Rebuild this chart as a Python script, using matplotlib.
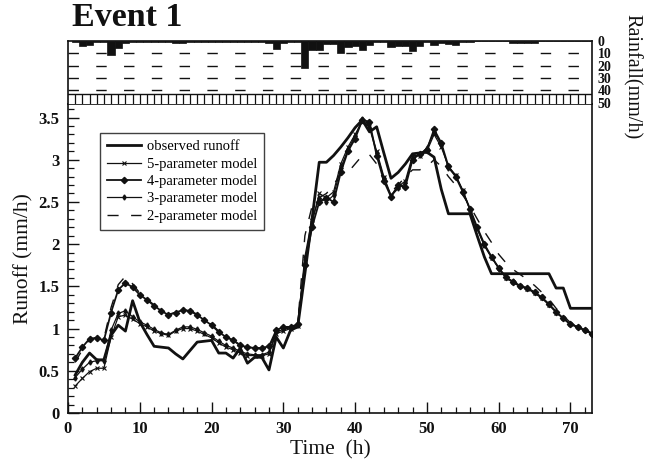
import matplotlib
matplotlib.use("Agg")
import matplotlib.pyplot as plt
import numpy as np
from matplotlib.ticker import MultipleLocator

plt.rcParams['font.family'] = ['Liberation Serif', 'DejaVu Serif']

hours = list(range(1, 74))

observed = [0.45, 0.60, 0.71, 0.63, 0.63, 0.92, 1.04, 0.97, 1.33, 1.08,
            0.93, 0.79, 0.78, 0.77, 0.70, 0.64, 0.74, 0.84, 0.85, 0.86,
            0.71, 0.71, 0.65, 0.77, 0.59, 0.66, 0.66, 0.51, 0.90, 0.77,
            0.98, 1.02, 1.65, 2.30, 2.97, 2.97, 3.05, 3.15, 3.26, 3.38,
            3.47, 3.33, 3.39, 3.08, 2.78, 2.85, 2.95, 3.07, 3.08, 3.09,
            3.03, 2.65, 2.36, 2.36, 2.36, 2.36, 2.10, 1.85, 1.65, 1.65,
            1.65, 1.65, 1.65, 1.65, 1.65, 1.65, 1.65, 1.48, 1.48, 1.24,
            1.24, 1.24, 1.24]

model5 = [0.32, 0.41, 0.49, 0.53, 0.53, 0.90, 1.14, 1.16, 1.11, 1.06,
          1.02, 0.97, 0.94, 0.92, 0.97, 1.00, 1.00, 0.97, 0.93, 0.89,
          0.83, 0.78, 0.75, 0.71, 0.68, 0.68, 0.68, 0.70, 0.94, 0.97,
          1.00, 1.03, 1.80, 2.25, 2.60, 2.55, 2.62, 2.95, 3.15, 3.30,
          3.45, 3.40, 3.10, 2.80, 2.58, 2.68, 2.75, 3.05, 3.05, 3.10,
          3.30, 3.15, 2.92, 2.82, 2.64, 2.40, 2.18, 1.98, 1.84, 1.72,
          1.60, 1.55, 1.50, 1.47, 1.42, 1.36, 1.28, 1.19, 1.12, 1.05,
          1.02, 0.98, 0.94]

model4 = [0.65, 0.78, 0.88, 0.89, 0.86, 1.19, 1.46, 1.54, 1.49, 1.40,
          1.34, 1.27, 1.21, 1.16, 1.19, 1.22, 1.21, 1.16, 1.10, 1.04,
          0.96, 0.90, 0.86, 0.80, 0.78, 0.77, 0.77, 0.79, 0.98, 1.02,
          1.02, 1.05, 1.75, 2.20, 2.50, 2.55, 2.50, 2.85, 3.10, 3.25,
          3.47, 3.45, 3.05, 2.75, 2.56, 2.70, 2.68, 3.00, 3.07, 3.12,
          3.36, 3.20, 2.92, 2.80, 2.62, 2.42, 2.20, 2.00, 1.85, 1.72,
          1.61, 1.55, 1.50, 1.48, 1.43, 1.37, 1.29, 1.20, 1.12, 1.05,
          1.02, 0.98, 0.94]

model3 = [0.42, 0.52, 0.60, 0.62, 0.62, 0.98, 1.18, 1.21, 1.14, 1.08,
          1.04, 0.99, 0.95, 0.93, 0.98, 1.02, 1.02, 0.99, 0.95, 0.91,
          0.85, 0.80, 0.77, 0.73, 0.70, 0.69, 0.69, 0.72, 0.96, 0.99,
          1.01, 1.04, 1.85, 2.30, 2.55, 2.50, 2.58, 2.90, 3.12, 3.28,
          3.48, 3.38, 3.08, 2.78, 2.57, 2.66, 2.72, 3.02, 3.06, 3.14,
          3.33, 3.18, 2.90, 2.81, 2.63, 2.41, 2.19, 1.99, 1.85, 1.71,
          1.61, 1.56, 1.51, 1.48, 1.43, 1.37, 1.29, 1.20, 1.12, 1.05,
          1.02, 0.98, 0.93]

model2 = [0.60, 0.75, 0.87, 0.89, 0.88, 1.25, 1.52, 1.62, 1.53, 1.42,
          1.35, 1.28, 1.22, 1.17, 1.19, 1.22, 1.21, 1.17, 1.11, 1.05,
          0.97, 0.91, 0.86, 0.81, 0.78, 0.77, 0.76, 0.78, 0.96, 1.01,
          1.02, 1.05, 2.10, 2.45, 2.55, 2.60, 2.70, 2.84, 2.85, 2.95,
          3.05, 3.06, 2.95, 2.75, 2.62, 2.70, 2.80, 2.88, 2.88, 2.92,
          3.00, 2.92, 2.80, 2.70, 2.58, 2.45, 2.30, 2.15, 2.02, 1.88,
          1.78, 1.70, 1.64, 1.58, 1.51, 1.43, 1.35, 1.24, 1.15, 1.07,
          1.02, 0.98, 0.95]

rainfall = [0.5, 4, 3, 0.5, 0.5, 11, 6, 1.5, 0.5, 0.5,
            0.5, 0.5, 1, 1, 2, 2, 0.5, 0.5, 0.5, 0.5,
            0.5, 0.5, 0.5, 0.5, 0.5, 0.5, 0.5, 2, 6.5, 2,
            0.5, 0.5, 22, 7, 7, 2.5, 2.5, 10, 5, 4,
            7, 3, 0.5, 0.5, 4.5, 4, 4, 8, 4, 1,
            3, 2, 2.5, 3, 0.5, 0.5, 0.3, 0.3, 0.3, 0.3,
            0.3, 1.5, 1.5, 1.5, 1.5, 0.3, 0.3, 0.3, 0.3, 0.3,
            0.3, 0.3, 0.3]

rain_ticks = [0, 10, 20, 30, 40, 50]
x_ticks = [0, 10, 20, 30, 40, 50, 60, 70]
y_ticks = [0, 0.5, 1, 1.5, 2, 2.5, 3, 3.5]
y_ticklabels = ['0', '0.5', '1', '1.5', '2', '2.5', '3', '3.5']
labels = ['observed runoff', '5-parameter model', '4-parameter model',
          '3-parameter model', '2-parameter model']

W, H = 651, 468
fig = plt.figure(figsize=(W / 100, H / 100), dpi=100)

L, R = 68, 592
main_top, main_bot = 104, 413
rain_top = 41
ax = fig.add_axes([L / W, 1 - main_bot / H, (R - L) / W, (main_bot - main_top) / H])
axr = fig.add_axes([L / W, 1 - main_top / H, (R - L) / W, (main_top - rain_top) / H])

ink = '#111111'

# --- rainfall panel ---
axr.bar(hours, rainfall, width=1.0, color=ink, edgecolor=ink, linewidth=0.5)
axr.set_xlim(0, 73)
axr.set_ylim(51, 0)
for lv in [10, 20, 30, 40]:
    axr.axhline(lv, color=ink, lw=1.0, dashes=(7.5, 12.5), dash_capstyle='butt')
axr.axhline(43, color=ink, lw=1.0)
axr.vlines(np.arange(1, 73), 43, 51, color=ink, lw=0.9)
axr.spines['bottom'].set_visible(False)
for s in ['top', 'left', 'right']:
    axr.spines[s].set_linewidth(1.2)
    axr.spines[s].set_color(ink)
axr.set_xticks([])
axr.yaxis.tick_right()
axr.set_yticks(rain_ticks)
axr.set_yticklabels([str(t) for t in rain_ticks], fontsize=10, fontweight='bold')
axr.tick_params(axis='y', length=0, pad=4, colors=ink)
fig.text(632 / W, 1 - 77 / H, 'Rainfall(mm/h)', rotation=270, fontsize=14.5,
         ha='center', va='center', color=ink)

# --- runoff panel ---
ax.plot(hours, model5, color=ink, lw=0.9, marker='x', ms=3, mew=0.8, label=labels[1])
ax.plot(hours, model4, color=ink, lw=1.3, marker='D', ms=3.2, label=labels[2])
ax.plot(hours, model3, color=ink, lw=0.9, marker='d', ms=2.6, label=labels[3])
ax.plot(hours, model2, color=ink, lw=1.0, dashes=(8, 9), label=labels[4])
ax.plot(hours, observed, color=ink, lw=2.0, label=labels[0])

ax.set_xlim(0, 73)
ax.set_ylim(0, 3.66)
ax.set_xticks(x_ticks)
ax.set_xticklabels([str(t) for t in x_ticks])
ax.set_yticks(y_ticks)
ax.set_yticklabels(y_ticklabels)
ax.xaxis.set_minor_locator(MultipleLocator(2))
ax.yaxis.set_minor_locator(MultipleLocator(0.1))
ax.tick_params(which='both', direction='in', top=False, right=False, colors=ink)
ax.tick_params(which='major', length=8, width=1.0, labelsize=12, pad=6)
ax.tick_params(which='minor', length=4, width=0.9)
for lab in ax.get_xticklabels() + ax.get_yticklabels():
    lab.set_fontweight('bold')
for s in ax.spines.values():
    s.set_linewidth(1.2)
    s.set_color(ink)

ax.set_xlabel('Time  (h)', fontsize=15.5, color=ink, labelpad=2)
ax.set_ylabel('Runoff (mm/h)', fontsize=15.5, color=ink, labelpad=4)

handles, labs = ax.get_legend_handles_labels()
order = [4, 0, 1, 2, 3]
leg = ax.legend([handles[i] for i in order], [labs[i] for i in order],
                loc='upper left', bbox_to_anchor=((100 - L) / (R - L), (main_bot - 133) / (main_bot - main_top)),
                borderaxespad=0, fontsize=10.5, frameon=True, fancybox=False,
                edgecolor=ink, handlelength=2.3, handletextpad=0.4,
                labelspacing=0.28, borderpad=0.5)
leg.get_frame().set_linewidth(1.0)

fig.text(72 / W, 1 - 18 / H, 'Event 1', fontsize=24.5, fontweight='bold',
         ha='left', va='center', color=ink)

fig.savefig('out.png', dpi=100)
